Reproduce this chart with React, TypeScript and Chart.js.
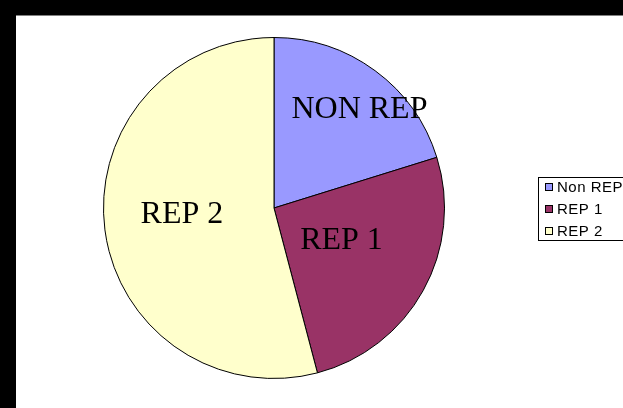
import React, { useEffect, useRef } from "react";
import { Chart, registerables } from "chart.js";

Chart.register(...registerables);

const categories = ["Non REP", "REP 1", "REP 2"];
const sliceLabels = ["NON REP", "REP 1", "REP 2"];
const values = [20.2, 25.7, 54.1];
const colors = ["#9999FF", "#993366", "#FFFFCC"];
// label centre offsets from the pie centre, as fractions of the radius (style only)
const labelOffsetX = [0.501, 0.396, -0.54];
const labelOffsetY = [-0.592, 0.176, 0.026];

const sliceLabelPlugin = {
  id: "sliceLabels",
  afterDatasetsDraw(chart: any) {
    const ctx = chart.ctx;
    const meta = chart.getDatasetMeta(0);
    ctx.save();
    ctx.font = "32px 'Liberation Serif', 'Times New Roman', serif";
    ctx.fillStyle = "#000";
    ctx.textAlign = "center";
    ctx.textBaseline = "alphabetic";
    meta.data.forEach((arc: any, i: number) => {
      const { x, y, outerRadius } = arc.getProps(["x", "y", "outerRadius"], true);
      const cx = x + labelOffsetX[i] * outerRadius;
      const cy = y + labelOffsetY[i] * outerRadius;
      ctx.fillText(sliceLabels[i], cx, cy + 10.6);
    });
    ctx.restore();
  },
};

const legendPlugin = {
  id: "boxLegend",
  afterDraw(chart: any) {
    const ctx = chart.ctx;
    ctx.save();
    ctx.strokeStyle = "#000";
    ctx.lineWidth = 1;
    ctx.strokeRect(538.5, 177.5, 120, 63);
    ctx.font = "15px 'Liberation Sans', Arial, sans-serif";
    try { (ctx as any).letterSpacing = "0.5px"; } catch (e) {}
    ctx.textBaseline = "middle";
    ctx.textAlign = "left";
    categories.forEach((c, i) => {
      const cy = 187 + i * 22;
      ctx.fillStyle = colors[i];
      ctx.fillRect(545, cy - 4, 8, 8);
      ctx.strokeStyle = "#000";
      ctx.strokeRect(545.5, cy - 3.5, 7, 7);
      ctx.fillStyle = "#000";
      ctx.fillText(c, 557, cy + 0.5);
    });
    ctx.restore();
  },
};

export default function App() {
  const ref = useRef<HTMLCanvasElement>(null);
  useEffect(() => {
    document.body.style.margin = "0";
    const chart = new Chart(ref.current!, {
      type: "pie",
      data: {
        labels: categories,
        datasets: [
          {
            data: values,
            backgroundColor: colors,
            borderColor: "#000",
            borderWidth: 1,
          },
        ],
      },
      options: {
        responsive: false,
        animation: false,
        layout: { padding: { left: 103, right: 178, top: 37, bottom: 29 } },
        plugins: {
          legend: { display: false },
          tooltip: { enabled: false },
        },
      },
      plugins: [sliceLabelPlugin, legendPlugin],
    });
    return () => chart.destroy();
  }, []);
  return (
    <div style={{ position: "fixed", left: 0, top: 0, width: 623, height: 408, background: "#000", overflow: "hidden" }}>
      <div style={{ position: "absolute", left: 16, top: 15, right: 0, bottom: 0, background: "#fff", borderTop: "1px solid #808080" }} />
      <canvas ref={ref} width={623} height={408} style={{ position: "absolute", left: 0, top: 0 }} />
    </div>
  );
}
